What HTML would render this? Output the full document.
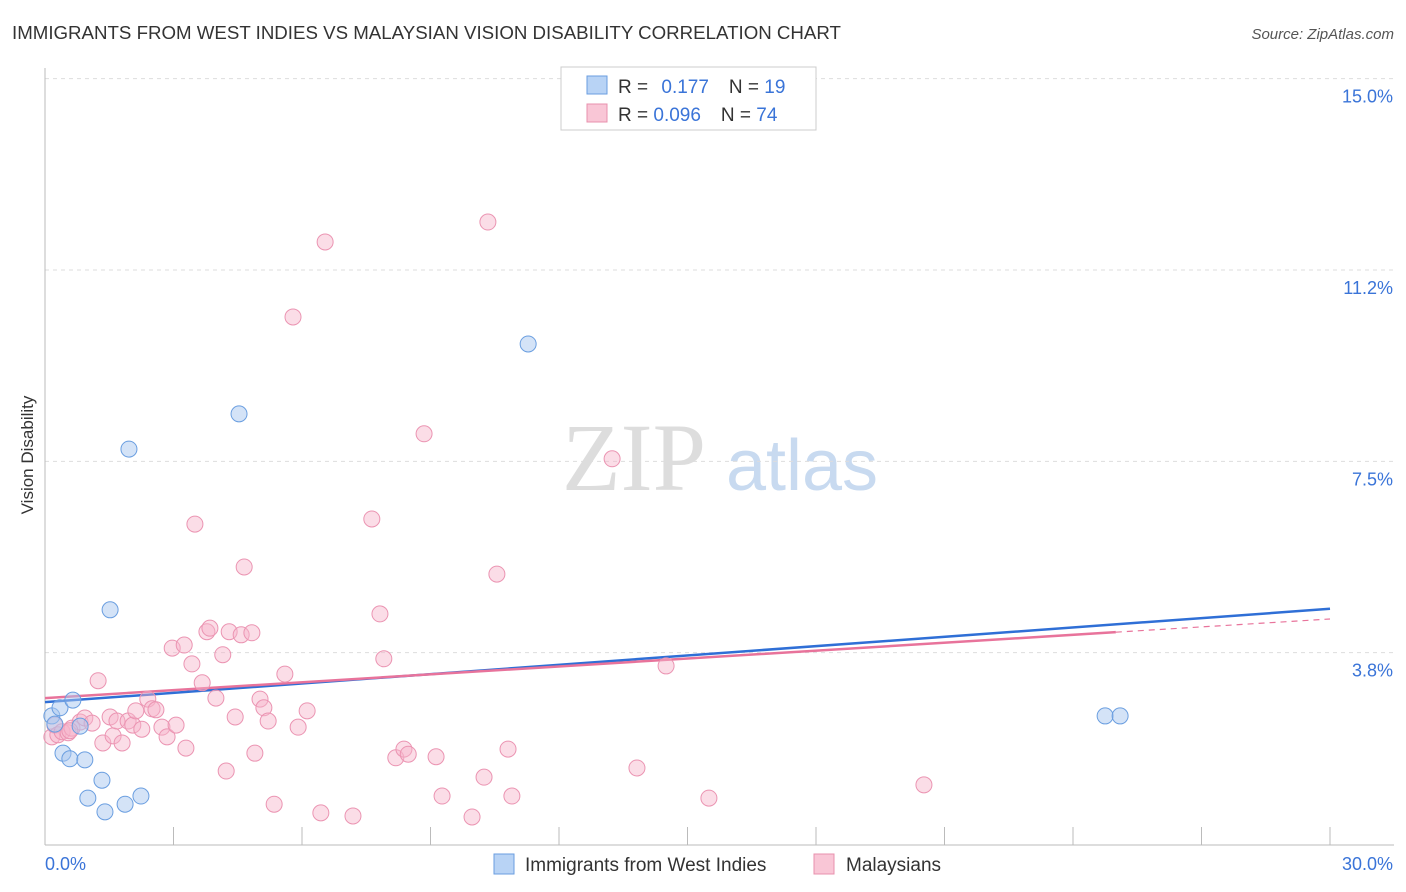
<!DOCTYPE html>
<html><head><meta charset="utf-8">
<style>
body{margin:0;background:#fff;font-family:"Liberation Sans",sans-serif;}
svg{display:block}
</style></head>
<body>
<svg id="chart" width="1406" height="892" xmlns="http://www.w3.org/2000/svg">
<text x="12" y="39" font-size="18.7" fill="#333">IMMIGRANTS FROM WEST INDIES VS MALAYSIAN VISION DISABILITY CORRELATION CHART</text>
<text x="1394" y="39" font-size="15" fill="#555" font-style="italic" text-anchor="end">Source: ZipAtlas.com</text>
<text x="33" y="455" font-size="17" fill="#333" text-anchor="middle" transform="rotate(-90 33 455)">Vision Disability</text>
<g>
<text x="634" y="490" font-size="96" fill="#ddd" font-family="Liberation Serif,serif" text-anchor="middle">ZIP</text>
<text x="802" y="490" font-size="72" fill="#c8daf0" text-anchor="middle">atlas</text>
</g>
<g id="grid"></g>
<g id="axes"></g>
<g id="lines"></g>
<g id="points"></g>
<g>
<rect x="561" y="67" width="255" height="63" fill="#fff" stroke="#ccc"/>
<rect x="587" y="76" width="20" height="18" fill="#b8d3f5" stroke="#6a9ee0"/>
<rect x="587" y="104" width="20" height="18" fill="#f9c6d6" stroke="#e890ad"/>
<text x="618" y="93" font-size="19" fill="#333">R = <tspan fill="#3a74d8" dx="8">0.177</tspan><tspan dx="20" fill="#333">N = </tspan><tspan fill="#3a74d8">19</tspan></text>
<text x="618" y="121" font-size="19" fill="#333">R = <tspan fill="#3a74d8">0.096</tspan><tspan dx="20" fill="#333">N = </tspan><tspan fill="#3a74d8">74</tspan></text>
</g>
<g>
<rect x="494" y="854" width="20" height="20" fill="#b8d3f5" stroke="#6a9ee0"/>
<text x="525" y="871" font-size="19" fill="#333">Immigrants from West Indies</text>
<rect x="814" y="854" width="20" height="20" fill="#f9c6d6" stroke="#e890ad"/>
<text x="846" y="871" font-size="19" fill="#333">Malaysians</text>
</g>
</svg>
<script>
const xTicks=[0,3,6,9,12,15,18,21,24,27,30];
const yTicks=[3.75,7.5,11.25,15];
const yTickLabels=["3.8%","7.5%","11.2%","15.0%"];
const xLabels=["0.0%","30.0%"];
const blueX=[0.16,0.23,0.35,0.65,0.42,0.58,0.93,0.82,1.33,1.0,1.4,1.87,2.24,1.52,1.96,4.53,11.28,24.75,25.1];
const blueY=[2.51,2.35,2.67,2.82,1.78,1.67,1.65,2.31,1.25,0.9,0.63,0.78,0.94,4.59,7.74,8.43,9.8,2.51,2.51];
const pinkX=[0.16,0.23,0.3,0.4,0.54,0.63,0.82,0.93,1.1,1.24,1.35,1.52,1.59,1.68,1.8,1.94,2.05,2.12,2.26,2.4,2.5,2.59,2.73,2.85,2.97,3.06,3.25,3.29,3.43,3.5,3.67,3.78,3.85,3.99,4.15,4.23,4.3,4.44,4.58,4.65,4.83,4.9,5.02,5.11,5.21,5.35,5.6,5.79,5.91,6.12,6.44,6.54,7.19,7.63,7.82,7.91,8.19,8.38,8.48,8.85,9.13,9.27,9.97,10.25,10.34,10.55,10.81,10.9,13.24,13.82,14.5,15.5,20.52,0.58];
const pinkY=[2.1,2.33,2.14,2.2,2.18,2.27,2.39,2.47,2.37,3.2,1.98,2.49,2.12,2.41,1.98,2.41,2.33,2.61,2.25,2.84,2.65,2.63,2.29,2.1,3.84,2.33,3.9,1.88,3.53,6.27,3.16,4.16,4.23,2.86,3.71,1.43,4.16,2.49,4.1,5.43,4.14,1.78,2.84,2.67,2.41,0.78,3.33,10.33,2.29,2.61,0.61,11.8,0.55,6.37,4.51,3.63,1.69,1.86,1.76,8.04,1.71,0.94,0.53,1.31,12.19,5.29,1.86,0.94,7.55,1.49,3.49,0.9,1.16,2.22];
const blueTrend=[2.78,4.61];
const pinkTrend=[2.86,4.41];
const pinkSolidEnd=25;
const NS="http://www.w3.org/2000/svg";
const X=v=>45+v*(1330-45)/30;
const Y=v=>844-v*(653-79)/11.25;
function mk(tag,attrs,parent){const e=document.createElementNS(NS,tag);for(const k in attrs)e.setAttribute(k,attrs[k]);parent.appendChild(e);return e;}
const grid=document.getElementById('grid'),axes=document.getElementById('axes'),lines=document.getElementById('lines'),pts=document.getElementById('points');
yTicks.forEach((t,i)=>{
 const l=mk('line',{x1:45,x2:1394,y1:Y(t),y2:Y(t),stroke:'#ddd','stroke-dasharray':'4,4'},grid);
 
 
 const tx=mk('text',{x:1393,y:Y(t)+24,'font-size':18,fill:'#3a74d8','text-anchor':'end'},axes);
 tx.textContent=yTickLabels[i];
 
 
});
const ax=mk('line',{x1:45,x2:1394,y1:845,y2:845,stroke:'#bbb'},axes);


const ay=mk('line',{x1:45,x2:45,y1:68,y2:845,stroke:'#bbb'},axes);


xTicks.forEach(t=>{
 const l=mk('line',{x1:X(t),x2:X(t),y1:827,y2:845,stroke:'#bbb'},axes);
 
 
});
[[0,'start',45],[30,'end',1393]].forEach((a,i)=>{
 const tx=mk('text',{x:a[2],y:870,'font-size':18,fill:'#3a74d8','text-anchor':a[1]},axes);
 tx.textContent=xLabels[i];
 
 
});
pinkX.forEach((x,i)=>{
 const c=mk('circle',{cx:X(x),cy:Y(pinkY[i]),r:8,fill:'rgba(246,180,202,0.45)',stroke:'#eb94b2','stroke-width':1},pts);
 
 
});
blueX.forEach((x,i)=>{
 const c=mk('circle',{cx:X(x),cy:Y(blueY[i]),r:8,fill:'rgba(170,200,240,0.5)',stroke:'#6a9ee0','stroke-width':1},pts);
 
 
});
const pAt=x=>pinkTrend[0]+(pinkTrend[1]-pinkTrend[0])*x/30;
const bl=mk('line',{x1:X(0),y1:Y(blueTrend[0]),x2:X(30),y2:Y(blueTrend[1]),stroke:'#2f6fd6','stroke-width':2.5},lines);


const pl=mk('line',{x1:X(0),y1:Y(pAt(0)),x2:X(pinkSolidEnd),y2:Y(pAt(pinkSolidEnd)),stroke:'#e8739b','stroke-width':2.5},lines);


const pd=mk('line',{x1:X(pinkSolidEnd),y1:Y(pAt(pinkSolidEnd)),x2:X(30),y2:Y(pAt(30)),stroke:'#e8739b','stroke-width':1.2,'stroke-dasharray':'6,5'},lines);


</script>
</body></html>
